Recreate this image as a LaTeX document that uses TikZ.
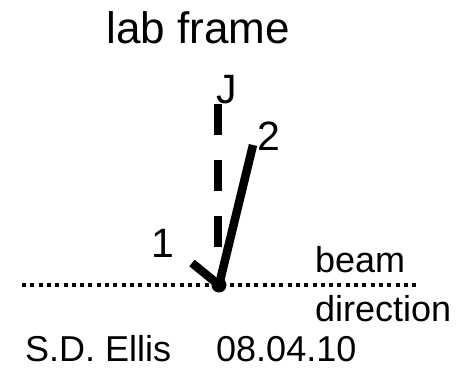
\documentclass[tikz,border=0pt]{standalone}
\usepackage{fontspec}
\setmainfont{Liberation Sans}
\begin{document}
\begin{tikzpicture}[x=1pt,y=-1pt,
  lbl/.style={inner sep=0pt,font=\fontsize{36}{36}\selectfont},
  num/.style={inner sep=0pt,font=\fontsize{41}{41}\selectfont},
  big/.style={inner sep=0pt,font=\fontsize{44}{44}\selectfont},
  jet/.style={line width=8.5pt},
  beamline/.style={line width=4pt,dash pattern=on 4pt off 4.3pt}]
\useasboundingbox (0,0) rectangle (459,368);
\node[big,anchor=base] (title) at (198,43) {lab frame};
\coordinate (v) at (219,285);
\coordinate (jtop) at (218,104);
\coordinate (jbot) at (218,250);
\coordinate (p1) at (192,263);
\coordinate (p2) at (253,145);
\coordinate (bl) at (22,285);
\coordinate (br) at (418,285);
\draw[beamline] (bl) -- (br);
\draw[line width=8pt,dash pattern=on 31pt off 25pt] (jtop) -- (jbot);
\draw[jet] (p1) -- (v);
\draw[jet] (v) -- (p2);
\fill (v) circle (7.5pt);
\node[num,anchor=base] (J) at (227,103) {J};
\node[num,anchor=base] (l2) at (269,150) {2};
\node[num,anchor=base] (l1) at (163,257) {1};
\node[lbl,anchor=base west] (beam) at (315,272) {beam};
\node[lbl,anchor=base west] (dir) at (315,321) {direction};
\node[lbl,anchor=base west] (auth) at (25,361) {S.D. Ellis};
\node[lbl,anchor=base west] (date) at (216,361) {08.04.10};
\end{tikzpicture}
\end{document}
